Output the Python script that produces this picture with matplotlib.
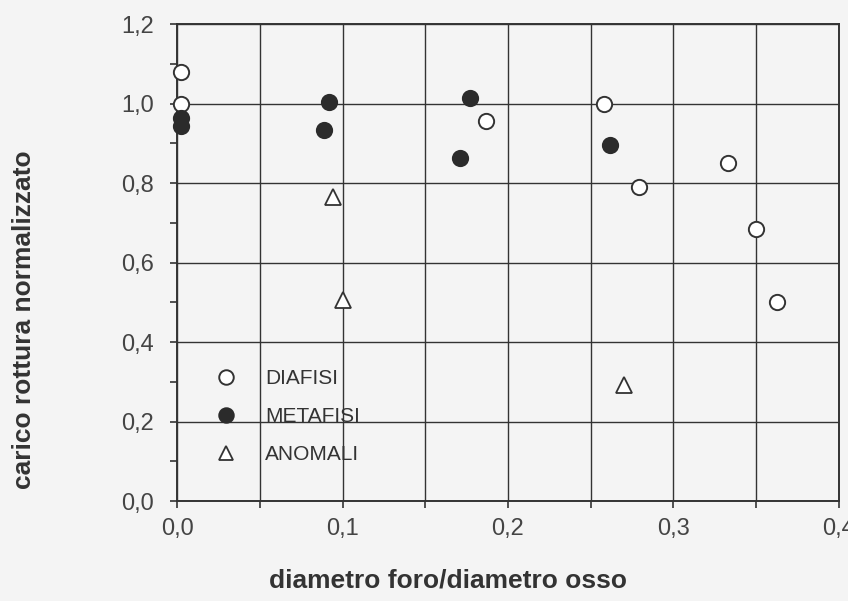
import numpy as np
import matplotlib.pyplot as plt
from matplotlib.ticker import MultipleLocator, FuncFormatter

plt.rcParams['font.family'] = ['Liberation Sans', 'DejaVu Sans']

# values
diafisi_x = [0.002, 0.002, 0.187, 0.258, 0.279, 0.333, 0.350, 0.363]
diafisi_y = [1.08, 1.0, 0.956, 1.0, 0.79, 0.85, 0.685, 0.50]
metafisi_x = [0.002, 0.002, 0.092, 0.089, 0.177, 0.171, 0.262]
metafisi_y = [0.963, 0.943, 1.003, 0.934, 1.014, 0.863, 0.896]
anomali_x = [0.094, 0.100, 0.270]
anomali_y = [0.765, 0.507, 0.293]

series_labels = ['DIAFISI', 'METAFISI', 'ANOMALI']

bg = '#f4f4f4'
ink = '#333333'

fig = plt.figure(figsize=(8.48, 6.01), dpi=100, facecolor=bg)
ax = fig.add_axes([0.209, 0.166, 0.780, 0.794], facecolor=bg)

ax.set_xlim(0, 0.4)
ax.set_ylim(0, 1.2)
ax.xaxis.set_major_locator(MultipleLocator(0.1))
ax.xaxis.set_minor_locator(MultipleLocator(0.05))
ax.yaxis.set_major_locator(MultipleLocator(0.2))
ax.yaxis.set_minor_locator(MultipleLocator(0.1))
comma = FuncFormatter(lambda v, p: f'{v:.1f}'.replace('.', ','))
ax.xaxis.set_major_formatter(comma)
ax.yaxis.set_major_formatter(comma)

ax.grid(True, axis='x', which='both', color=ink, lw=1.0)
ax.grid(True, axis='y', which='major', color=ink, lw=1.0)
ax.set_axisbelow(True)
for s in ax.spines.values():
    s.set_color(ink)
    s.set_linewidth(1.4)

ax.tick_params(which='both', direction='out', length=5, width=1.2, color=ink)
ax.tick_params(axis='both', labelsize=17, labelcolor='#444444')
ax.tick_params(axis='y', pad=12)
ax.tick_params(axis='x', pad=7)

ms = 11
ax.plot(diafisi_x, diafisi_y, 'o', ms=ms, mfc='white', mec=ink, mew=1.4,
        ls='none', clip_on=False, zorder=3, label=series_labels[0])
ax.plot(metafisi_x, metafisi_y, 'o', ms=ms, mfc='#2b2b2b', mec='#2b2b2b', mew=1.4,
        ls='none', clip_on=False, zorder=3, label=series_labels[1])
ax.plot(anomali_x, anomali_y, '^', ms=ms, mfc='white', mec=ink, mew=1.3,
        ls='none', clip_on=False, zorder=3, label=series_labels[2])

leg = ax.legend(loc='lower left', bbox_to_anchor=(0.045, 0.06), frameon=False,
                fontsize=15, markerscale=0.95, handlelength=1.0, handletextpad=1.4,
                labelspacing=0.92, borderaxespad=0)
for t in leg.get_texts():
    t.set_color('#333333')

ax.set_xlabel('diametro foro/diametro osso', fontsize=19, fontweight='bold',
              color='#333333')
ax.xaxis.set_label_coords(0.41, -0.14)
ax.set_ylabel('carico rottura normalizzato', fontsize=19, fontweight='bold',
              color='#333333')
ax.yaxis.set_label_coords(-0.214, 0.38)

fig.savefig('out.png', dpi=100, facecolor=bg)
